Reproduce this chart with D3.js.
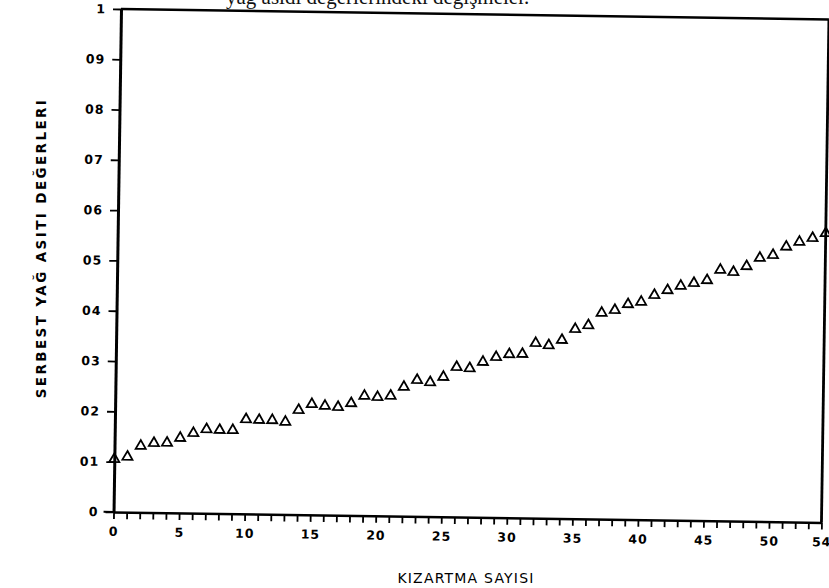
<!DOCTYPE html>
<html>
<head>
<meta charset="utf-8">
<script src="https://cdn.jsdelivr.net/npm/d3@7"></script>
<style>
  body { margin: 0; background: #fff; }
  svg { display: block; }
</style>
</head>
<body>
<svg id="chart" width="829" height="588"></svg>
<script>
// Frying count (x) and free fatty acid value (y) for each measurement
const fryCounts = [0, 1, 2, 3, 4, 5, 6, 7, 8, 9, 10, 11, 12, 13, 14, 15, 16, 17, 18, 19,
  20, 21, 22, 23, 24, 25, 26, 27, 28, 29, 30, 31, 32, 33, 34, 35, 36, 37, 38, 39,
  40, 41, 42, 43, 44, 45, 46, 47, 48, 49, 50, 51, 52, 53, 54];
const ffaValues = [0.105, 0.110, 0.132, 0.138, 0.139, 0.149, 0.159, 0.167, 0.166, 0.166,
  0.188, 0.187, 0.187, 0.184, 0.208, 0.220, 0.217, 0.215, 0.223, 0.238,
  0.236, 0.239, 0.257, 0.271, 0.267, 0.278, 0.298, 0.296, 0.309, 0.319,
  0.325, 0.326, 0.348, 0.344, 0.355, 0.377, 0.385, 0.410, 0.416, 0.428,
  0.433, 0.447, 0.457, 0.466, 0.472, 0.478, 0.499, 0.495, 0.507, 0.524,
  0.530, 0.547, 0.557, 0.565, 0.575];

// Axis ticks and their printed labels
const yTickValues = [0, 0.1, 0.2, 0.3, 0.4, 0.5, 0.6, 0.7, 0.8, 0.9, 1];
const yTickLabels = ["0", "01", "02", "03", "04", "05", "06", "07", "08", "09", "1"];
const xMinorTicks = fryCounts;
const xLabelTicks = [0, 5, 10, 15, 20, 25, 30, 35, 40, 45, 50, 54];
const xTickLabels = ["0", "5", "10", "15", "20", "25", "30", "35", "40", "45", "50", "54"];

const titleText = "yağ asidi değerlerindeki değişmeler.";
const xTitle = "KIZARTMA SAYISI";
const yTitle = "SERBEST YAĞ ASITI DEĞERLERI";

const svg = d3.select("#chart");
const W = 708, H = 503;

// Figure title line, running off the top edge of the page
svg.append("text")
  .attr("x", 226).attr("y", 4)
  .attr("font-family", "Liberation Serif, serif")
  .attr("font-size", 21)
  .attr("fill", "#111")
  .text(titleText);

// Whole figure sits slightly tilted on the page
const g = svg.append("g")
  .attr("transform", "translate(121,9) rotate(0.85)");

const x = d3.scaleLinear().domain([0, 54]).range([0, W]);
const y = d3.scaleLinear().domain([0, 1]).range([H, 0]);

const tickFont = "DejaVu Sans, sans-serif";

// Left axis
const yAxis = d3.axisLeft(y)
  .tickValues(yTickValues)
  .tickFormat((d, i) => yTickLabels[i])
  .tickSize(8)
  .tickSizeOuter(0)
  .tickPadding(7);
const gy = g.append("g").call(yAxis);
gy.select(".domain").attr("stroke", "#000").attr("stroke-width", 3);
gy.selectAll(".tick line").attr("stroke", "#000").attr("stroke-width", 1.8);
gy.selectAll(".tick text")
  .attr("font-family", tickFont).attr("font-weight", "bold")
  .attr("font-size", 12.5).attr("letter-spacing", 1).attr("fill", "#000");

// Bottom axis with a tick at every frying count
const xAxis = d3.axisBottom(x)
  .tickValues(xMinorTicks)
  .tickFormat(d => {
    const k = xLabelTicks.indexOf(d);
    return k >= 0 ? xTickLabels[k] : "";
  })
  .tickSize(7)
  .tickSizeOuter(0)
  .tickPadding(8);
const gx = g.append("g").attr("transform", `translate(0,${H})`).call(xAxis);
gx.select(".domain").attr("stroke", "#000").attr("stroke-width", 2.5);
gx.selectAll(".tick line").attr("stroke", "#000").attr("stroke-width", 1.8);
gx.selectAll(".tick text")
  .attr("font-family", tickFont).attr("font-weight", "bold")
  .attr("font-size", 12.5).attr("letter-spacing", 1).attr("fill", "#000");

// Extend the baseline to the left as the zero tick
g.append("line")
  .attr("x1", -10).attr("x2", 0).attr("y1", y(0)).attr("y2", y(0))
  .attr("stroke", "#000").attr("stroke-width", 2);

// Top and right frame
g.append("line")
  .attr("x1", 0).attr("x2", x(54)).attr("y1", y(1)).attr("y2", y(1))
  .attr("stroke", "#000").attr("stroke-width", 2.4);
g.append("line")
  .attr("x1", x(54)).attr("x2", x(54)).attr("y1", y(1)).attr("y2", y(0))
  .attr("stroke", "#000").attr("stroke-width", 2.8);

// Open triangle markers
const tri = d3.symbol().type(d3.symbolTriangle).size(44);
g.append("g").selectAll("path")
  .data(fryCounts.map((c, i) => ({ c, v: ffaValues[i] })))
  .join("path")
  .attr("d", tri)
  .attr("transform", d => `translate(${x(d.c)},${y(d.v)})`)
  .attr("fill", "none")
  .attr("stroke", "#000")
  .attr("stroke-width", 1.8);

// Axis titles
svg.append("text")
  .attr("x", 466).attr("y", 583)
  .attr("text-anchor", "middle")
  .attr("font-family", "DejaVu Sans, sans-serif")
  .attr("font-size", 14)
  .attr("letter-spacing", 1.2)
  .attr("fill", "#000")
  .text(xTitle);

svg.append("text")
  .attr("transform", "translate(46,248) rotate(-90)")
  .attr("text-anchor", "middle")
  .attr("font-family", "DejaVu Sans, sans-serif")
  .attr("font-weight", "bold")
  .attr("font-size", 13.5)
  .attr("letter-spacing", 2.4)
  .attr("fill", "#000")
  .text(yTitle);
</script>
</body>
</html>
